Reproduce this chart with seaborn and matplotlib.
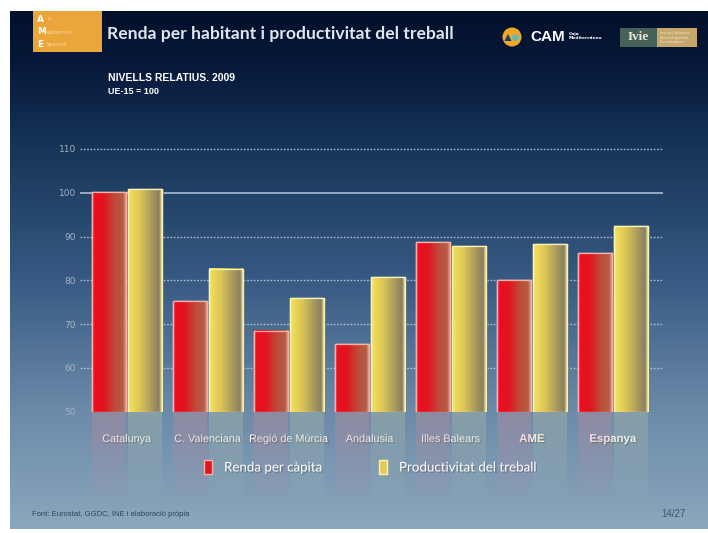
import numpy as np
import pandas as pd
import matplotlib
matplotlib.use('Agg')
import matplotlib.pyplot as plt
import matplotlib.patheffects as pe
from matplotlib.colors import LinearSegmentedColormap, to_rgb
from matplotlib.patches import Rectangle, Ellipse, Polygon, Patch
import seaborn as sns

# Chart data (relative levels 2009, UE-15 = 100)
regions = ['Catalunya', 'C. Valenciana', 'Regió de Múrcia', 'Andalusia',
           'Illes Balears', 'AME', 'Espanya']
renda = [100.1, 75.2, 68.5, 65.4, 88.7, 80.0, 86.2]
productivitat = [100.8, 82.7, 76.0, 80.8, 87.8, 88.2, 92.3]
series_names = ['Renda per càpita', 'Productivitat del treball']
y_ticks = [50, 60, 70, 80, 90, 100, 110]

df = pd.DataFrame({
    'region': regions * 2,
    'value': renda + productivitat,
    'series': [series_names[0]] * len(regions) + [series_names[1]] * len(regions),
})

sns.set_style('white')
plt.rcParams['font.family'] = ['Liberation Sans', 'DejaVu Sans']

fig = plt.figure(figsize=(7.08, 5.33), dpi=100)
fig.patch.set_facecolor('white')

# Background slide with vertical gradient
bg = fig.add_axes([10 / 708, 4 / 533, 698 / 708, 518 / 533])
bg_cmap = LinearSegmentedColormap.from_list('bg', [
    (0.0, '#03102a'), (0.10, '#06183a'), (0.27, '#173659'),
    (0.52, '#385a83'), (0.77, '#6b8aa9'), (1.0, '#8ca7bd')])
bg.imshow(np.linspace(0, 1, 256).reshape(-1, 1), cmap=bg_cmap, aspect='auto',
          extent=(0, 1, 0, 1), origin='upper')
bg.set_xlim(0, 1)
bg.set_ylim(0, 1)
bg.axis('off')

# Main chart
ax = fig.add_axes([80 / 708, 1 - 411.7 / 533, 583 / 708, 264.9 / 533])
ax.set_facecolor('none')
red = '#e01522'
yellow = '#e2cc55'
sns.barplot(data=df, x='region', y='value', hue='series', palette=[red, yellow],
            width=0.88, gap=0.05, legend=False, ax=ax, zorder=3)

grad_red = LinearSegmentedColormap.from_list('gr', [
    (0, '#f05a60'), (0.06, '#ec0d1e'), (0.35, '#e0161f'), (0.7, '#bd4e3a'),
    (0.93, '#b45d48'), (1, '#e8a090')])
grad_yel = LinearSegmentedColormap.from_list('gy', [
    (0, '#f8f098'), (0.06, '#f0dc5c'), (0.35, '#dcc655'), (0.7, '#a89a5e'),
    (0.93, '#8a7e5e'), (1, '#f0e8a8')])

ylo = 50
for i, bar in enumerate(ax.patches):
    if bar.get_height() <= 0:
        continue
    x0 = bar.get_x()
    w = bar.get_width()
    h = bar.get_height()
    is_red = i < len(regions)
    cmap = grad_red if is_red else grad_yel
    grad = np.linspace(0, 1, 64).reshape(1, -1)
    bar.set_path_effects([pe.SimplePatchShadow(offset=(2, -2), alpha=0.45, shadow_rgbFace='#0a1020'),
                          pe.Normal()])
    ax.imshow(grad, cmap=cmap, aspect='auto', extent=(x0, x0 + w, ylo, h),
              zorder=4, interpolation='bicubic')
    ax.add_patch(Rectangle((x0, ylo), w, h - ylo, fill=False,
                           edgecolor='#f6b0a8' if is_red else '#fbf3b0', lw=0.9, zorder=5))
    # faint reflection under the bars
    rc = to_rgb('#c98a98') if is_red else to_rgb('#b4c0a8')
    refl = np.zeros((64, 1, 4))
    refl[:, 0, :3] = rc
    refl[:, 0, 3] = np.linspace(0.38, 0.0, 64)
    im = ax.imshow(refl, aspect='auto', extent=(x0, x0 + w, ylo - 22, ylo),
                   origin='upper', zorder=2)
    im.set_clip_on(False)

# grid lines
for t in y_ticks:
    if t == 100:
        ax.axhline(t, color='#b8c6d6', lw=1.1, zorder=1)
    elif t == 50:
        ax.axhline(t, color='#a8b8c8', lw=0.8, alpha=0.6, zorder=1)
    else:
        ax.axhline(t, color='#c4d0dc', lw=1.0, ls=(0, (1.2, 1.2)), alpha=0.85, zorder=1)

ax.set_xlim(-0.58, 6.62)
ax.set_ylim(50, 110.5)
ax.set_yticks(y_ticks)
ax.set_yticklabels([str(t) for t in y_ticks], color='#a4b2c4', fontsize=6.5,
                   family=['DejaVu Sans'])
ax.tick_params(axis='y', length=0, pad=3)
ax.tick_params(axis='x', length=0, pad=16)
ax.set_xticks(range(len(regions)))
ax.set_xticklabels(regions, color='white', fontsize=7.8)
for lbl in ax.get_xticklabels():
    lbl.set_path_effects([pe.withSimplePatchShadow(offset=(1, -1), alpha=0.5)])
    if lbl.get_text() in ('AME', 'Espanya'):
        lbl.set_fontweight('bold')
        lbl.set_fontsize(8.2)
ax.set_xlabel('')
ax.set_ylabel('')
for s in ax.spines.values():
    s.set_visible(False)

# legend
handles = [Patch(facecolor=red, edgecolor='#f6b0a8'), Patch(facecolor=yellow, edgecolor='#fbf3b0')]
leg = fig.legend(handles, series_names, loc='center', bbox_to_anchor=(371 / 708, 1 - 467 / 533),
                 ncol=2, frameon=False, handlelength=0.6, handleheight=1.3, handletextpad=0.9,
                 columnspacing=4.2, prop={'family': ['Lato', 'DejaVu Sans'], 'size': 9.6})
for txt in leg.get_texts():
    txt.set_color('white')
    txt.set_path_effects([pe.withSimplePatchShadow(offset=(1, -1), alpha=0.4)])

# header: AME box
fig.patches.append(Rectangle((33 / 708, 1 - 52 / 533), 69 / 708, 41 / 533,
                             transform=fig.transFigure, facecolor='#eaa63a', edgecolor='none'))
for k, (big, small) in enumerate([('A', 'rc'), ('M', 'editerrani'), ('E', 'spanyol')]):
    yy = 1 - (19 + k * 13) / 533
    fig.text(37 / 708, yy, big, color='white', fontsize=6.5, fontweight='bold',
             va='center', family=['DejaVu Sans'])
    fig.text(47 / 708, yy, small, color='#f8d8a0', fontsize=3.8, va='center', family=['DejaVu Sans'])

fig.text(107 / 708, 1 - 34 / 533, 'Renda per habitant i productivitat del treball',
         color='#dfe6ee', fontsize=12.6, fontweight='bold', va='center',
         family=['Lato', 'DejaVu Sans'])

# logos on the right
fig.patches.append(Ellipse((512 / 708, 1 - 37 / 533), 19 / 708, 19 / 533, transform=fig.transFigure,
                           facecolor='#f0a828', edgecolor='none'))
fig.patches.append(Polygon([(504.5 / 708, 1 - 41 / 533), (511.5 / 708, 1 - 41 / 533),
                            (508 / 708, 1 - 34 / 533)], transform=fig.transFigure,
                           facecolor='#1d3a6a', edgecolor='none'))
fig.patches.append(Ellipse((515.5 / 708, 1 - 37.5 / 533), 7 / 708, 7 / 533, transform=fig.transFigure,
                           facecolor='#68b8b0', edgecolor='none'))
fig.text(530 / 708, 1 - 37 / 533, 'CAM', color='white', fontsize=11, fontweight='bold',
         va='center')
fig.text(569 / 708, 1 - 36 / 533, 'Caja\nMediterráneo', color='white', fontsize=3.2,
         fontweight='bold', va='center', linespacing=1.1, family=['DejaVu Sans'])
fig.patches.append(Rectangle((620 / 708, 1 - 47 / 533), 37 / 708, 19 / 533,
                             transform=fig.transFigure, facecolor='#466158', edgecolor='none'))
fig.patches.append(Rectangle((657 / 708, 1 - 47 / 533), 40 / 708, 19 / 533,
                             transform=fig.transFigure, facecolor='#c6a86c', edgecolor='none'))
fig.text(638.5 / 708, 1 - 37.5 / 533, 'Ivie', color='#efe8d2', fontsize=9.5, fontweight='bold',
         ha='center', va='center', family=['Liberation Serif', 'DejaVu Serif'])
fig.text(660 / 708, 1 - 37.5 / 533, 'Institut Valencià\nd\'Investigacions\nEconòmiques',
         color='#f2e6c8', fontsize=2.6, va='center', linespacing=1.2, family=['DejaVu Sans'])

fig.text(108 / 708, 1 - 78 / 533, 'NIVELLS RELATIUS. 2009', color='white', fontsize=7.5,
         fontweight='bold', va='center')
fig.text(108 / 708, 1 - 91 / 533, 'UE-15 = 100', color='white', fontsize=6.5,
         fontweight='bold', va='center')

# footer
fig.text(32 / 708, 1 - 514 / 533, 'Font: Eurostat, GGDC, INE i elaboració pròpia',
         color='#2e4560', fontsize=5.5, va='center')
fig.text(686 / 708, 1 - 514 / 533, '14/27', color='#3a5470', fontsize=7, va='center', ha='right')

fig.savefig('out.png', dpi=100)
